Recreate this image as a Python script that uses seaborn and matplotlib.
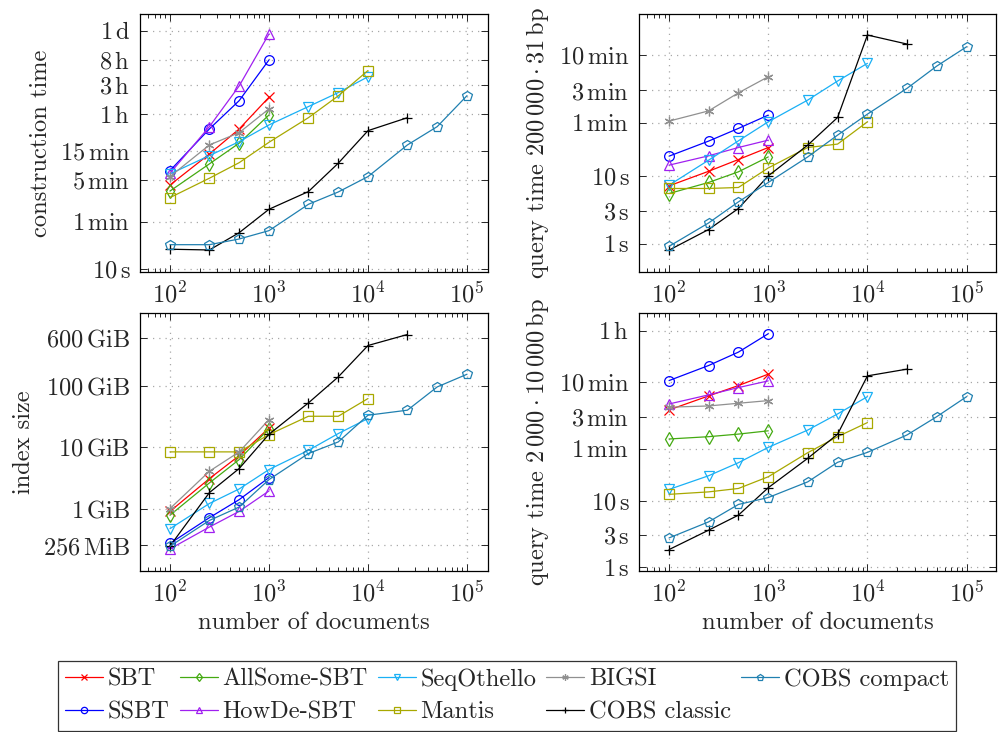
import numpy as np
import matplotlib
matplotlib.use("Agg")
import matplotlib.pyplot as plt
import seaborn as sns
from matplotlib.ticker import FixedLocator, FixedFormatter, LogLocator, NullLocator, LogFormatterSciNotation

# number of documents (x axis, shared by all panels)
n_docs = [100, 250, 500, 1000, 2500, 5000, 10000, 25000, 50000, 100000]

# construction time in seconds
constr_sbt = [244, 794, 2060, 6890]
constr_ssbt = [422, 2060, 6050, 28500]
constr_allsome = [194, 545, 1200, 3510]
constr_howde = [381, 2250, 10600, 76600]
constr_seqothello = [372, 747, 1270, 2400, 4820, 8200, 15000]
constr_mantis = [151, 316, 571, 1240, 3160, 7240, 19000]
constr_bigsi = [336, 1120, 1790, 4420]
constr_cobs_classic = [21.2, 20.6, 39.8, 97, 190, 558, 1930, 3160]
constr_cobs_compact = [25.2, 25.2, 31.3, 43, 117, 187, 336, 1120, 2250, 7310]

# query time 200000 * 31 bp in seconds
q31_sbt = [7.08, 11.6, 17.3, 26]
q31_ssbt = [19.4, 32.3, 49.7, 78]
q31_allsome = [5.46, 7.94, 11.4, 18.9]
q31_howde = [14.3, 19.6, 26, 33.4]
q31_seqothello = [7.24, 16.9, 32.6, 62.2, 130, 248, 452]
q31_mantis = [6.48, 6.48, 6.7, 13, 26, 29.2, 62.2]
q31_bigsi = [63.7, 90, 166, 287]
q31_cobs_classic = [0.8, 1.61, 3.28, 9.93, 28.2, 72, 1181, 870]
q31_cobs_compact = [0.91, 2.01, 4.11, 7.94, 18.9, 39.6, 80.7, 193, 412, 794]

# index size in GiB
size_sbt = [0.9, 3.08, 7.3, 20.6]
size_ssbt = [0.27, 0.71, 1.40, 3.2]
size_allsome = [0.78, 2.62, 6.3, 20.2]
size_howde = [0.22, 0.5, 0.9, 1.94]
size_seqothello = [0.47, 1.21, 2.09, 4.33, 8.9, 16.7, 29.4]
size_mantis = [8.4, 8.4, 8.4, 16.1, 32, 32, 62.3]
size_bigsi = [1.0, 4.06, 8.4, 28.3]
size_cobs_classic = [0.245, 1.82, 4.5, 16.3, 52.8, 140, 456, 689]
size_cobs_compact = [0.243, 0.64, 1.06, 2.97, 7.9, 12.2, 33.3, 40.2, 96.3, 155]

# query time 2000 * 10000 bp in seconds
q10k_sbt = [231, 375, 537, 798]
q10k_ssbt = [639, 1075, 1711, 3236]
q10k_allsome = [84.4, 91.4, 100, 112]
q10k_howde = [284, 389, 501, 632]
q10k_seqothello = [14.7, 23.6, 37.1, 63.1, 115, 201, 366]
q10k_mantis = [12.4, 13.5, 15.2, 22.8, 52.5, 91.4, 149]
q10k_bigsi = [254, 265, 291, 319]
q10k_cobs_classic = [1.83, 3.58, 6.03, 15.6, 43.2, 99.4, 752, 949]
q10k_cobs_compact = [2.74, 4.77, 8.73, 11.1, 19.1, 37.6, 53.1, 96.9, 183, 366]

labels = ["SBT", "SSBT", "AllSome-SBT", "HowDe-SBT", "SeqOthello", "Mantis",
          "BIGSI", "COBS classic", "COBS compact"]

# y ticks
constr_ticks = [10, 60, 300, 900, 3600, 10800, 28800, 86400]
constr_ticklabels = [r"$10\,\mathrm{s}$", r"$1\,\mathrm{min}$", r"$5\,\mathrm{min}$", r"$15\,\mathrm{min}$",
                     r"$1\,\mathrm{h}$", r"$3\,\mathrm{h}$", r"$8\,\mathrm{h}$", r"$1\,\mathrm{d}$"]
q31_ticks = [1, 3, 10, 60, 180, 600]
q31_ticklabels = [r"$1\,\mathrm{s}$", r"$3\,\mathrm{s}$", r"$10\,\mathrm{s}$",
                  r"$1\,\mathrm{min}$", r"$3\,\mathrm{min}$", r"$10\,\mathrm{min}$"]
size_ticks = [0.25, 1, 10, 100, 600]
size_ticklabels = [r"$256\,\mathrm{MiB}$", r"$1\,\mathrm{GiB}$", r"$10\,\mathrm{GiB}$",
                   r"$100\,\mathrm{GiB}$", r"$600\,\mathrm{GiB}$"]
q10k_ticks = [1, 3, 10, 60, 180, 600, 3600]
q10k_ticklabels = q31_ticklabels + [r"$1\,\mathrm{h}$"]

styles = {
    "SBT": dict(color="#ff0000", marker="x"),
    "SSBT": dict(color="#0000ff", marker="o"),
    "AllSome-SBT": dict(color="#44aa11", marker="d"),
    "HowDe-SBT": dict(color="#a020f0", marker="^"),
    "SeqOthello": dict(color="#1ab0f5", marker="v"),
    "Mantis": dict(color="#a8a800", marker="s"),
    "BIGSI": dict(color="#909090", marker=(6, 2, 0)),
    "COBS classic": dict(color="#000000", marker="+"),
    "COBS compact": dict(color="#2080b0", marker="p"),
}

sns.set_style("ticks")
plt.rcParams["font.family"] = ["cmr10", "DejaVu Serif"]
plt.rcParams["mathtext.fontset"] = "cm"
plt.rcParams["axes.unicode_minus"] = False
plt.rcParams["axes.formatter.use_mathtext"] = True
FS = 17.6

fig = plt.figure(figsize=(9.99, 7.32), dpi=100)
W, H = 999, 732

def add_ax(l, r, t, b):
    return fig.add_axes([l / W, 1 - b / H, (r - l) / W, (b - t) / H])

panels = [
    (add_ax(140, 488, 14, 272), [constr_sbt, constr_ssbt, constr_allsome, constr_howde, constr_seqothello,
                                 constr_mantis, constr_bigsi, constr_cobs_classic, constr_cobs_compact],
     constr_ticks, constr_ticklabels, (10 ** 0.950, 10 ** 5.213), 10 ** 5.212, "construction time"),
    (add_ax(639, 996, 14, 272), [q31_sbt, q31_ssbt, q31_allsome, q31_howde, q31_seqothello,
                                 q31_mantis, q31_bigsi, q31_cobs_classic, q31_cobs_compact],
     q31_ticks, q31_ticklabels, (10 ** -0.419, 10 ** 3.382), 10 ** 5.296,
     r"query time $200\,000\cdot 31\,$bp"),
    (add_ax(140, 488, 313, 571), [size_sbt, size_ssbt, size_allsome, size_howde, size_seqothello,
                                  size_mantis, size_bigsi, size_cobs_classic, size_cobs_compact],
     size_ticks, size_ticklabels, (10 ** -1.018, 10 ** 3.189), 10 ** 5.212, "index size"),
    (add_ax(639, 996, 313, 571), [q10k_sbt, q10k_ssbt, q10k_allsome, q10k_howde, q10k_seqothello,
                                  q10k_mantis, q10k_bigsi, q10k_cobs_classic, q10k_cobs_compact],
     q10k_ticks, q10k_ticklabels, (10 ** -0.060, 10 ** 3.822), 10 ** 5.296,
     r"query time $2\,000\cdot 10\,000\,$bp"),
]

for i, (ax, series, yt, ytl, ylim, xmax, ylabel) in enumerate(panels):
    for name, vals in zip(labels, series):
        st = styles[name]
        sns.lineplot(x=n_docs[:len(vals)], y=vals, ax=ax, color=st["color"], marker=st["marker"],
                     markersize=7, markerfacecolor="none", markeredgecolor=st["color"],
                     markeredgewidth=0.9, linewidth=0.9, label=name, legend=False, sort=False)
    ax.set_xscale("log")
    ax.set_yscale("log")
    ax.set_xlim(10 ** 1.697, xmax)
    ax.set_ylim(*ylim)
    ax.xaxis.set_major_locator(FixedLocator([1e2, 1e3, 1e4, 1e5]))
    ax.xaxis.set_major_formatter(LogFormatterSciNotation())
    ax.xaxis.set_minor_locator(LogLocator(base=10, subs=np.arange(2, 10), numticks=20))
    ax.yaxis.set_major_locator(FixedLocator(yt))
    ax.yaxis.set_major_formatter(FixedFormatter(ytl))
    ax.yaxis.set_minor_locator(NullLocator())
    ax.tick_params(which="both", direction="in", top=True, right=True, labelsize=FS, width=0.7)
    ax.tick_params(which="major", length=5, pad=7)
    ax.tick_params(which="minor", length=3)
    ax.grid(True, which="major", color="#a8a8a8", linestyle=(0, (1, 4)), linewidth=0.9)
    for sp in ax.spines.values():
        sp.set_linewidth(0.9)
        sp.set_color("black")
    ax.set_ylabel(ylabel, fontsize=FS, labelpad=6)
    if i >= 2:
        ax.set_xlabel("number of documents", fontsize=FS, labelpad=4)

handles, _ = panels[0][0].get_legend_handles_labels()
leg = fig.legend(handles, labels, loc="upper left", bbox_to_anchor=(58 / W, 1 - 661 / H),
                 ncol=5, fontsize=FS, frameon=True, fancybox=False, edgecolor="black",
                 handlelength=1.55, handletextpad=0.2, columnspacing=0.4, labelspacing=0.42,
                 borderpad=0.3, borderaxespad=0, markerscale=0.65)
leg.get_frame().set_linewidth(0.9)

fig.savefig("out.png", dpi=100)
